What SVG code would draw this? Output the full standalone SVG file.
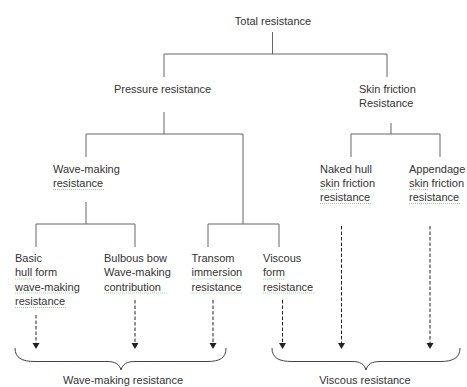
<svg xmlns="http://www.w3.org/2000/svg" width="467" height="387" viewBox="0 0 467 387">
<defs>
<style>
text{font-family:"Liberation Sans",Arial,sans-serif;font-size:11px;fill:#333}
.tree{fill:none;stroke:#666;stroke-width:1}
.dash{fill:none;stroke:#222;stroke-width:1;stroke-dasharray:3.5,2}
.brace{fill:none;stroke:#444;stroke-width:1}
.sq{fill:none;stroke:#9ad69a;stroke-width:1;stroke-dasharray:1,1}
</style>
</defs>
<rect width="467" height="387" fill="#fff"/>
<g id="connectors">
<path class="tree" d="M272.5,32V54M164,77V54H387V77"/>
<path class="tree" d="M164,112V134M86,157V134H243V224M36,247V224H135V247M86,202V224M208,247V224H279V247"/>
<path class="tree" d="M391,123V134M351,157V134H440V157"/>
<path class="dash" d="M36,315V343"/>
<path class="dash" d="M135,300V343"/>
<path class="dash" d="M213,300V343"/>
<path class="dash" d="M282.5,300V343"/>
<path class="dash" d="M341.5,226V343"/>
<path class="dash" d="M430,226V343"/>
<g fill="#222">
<path d="M32.5,343H39.5L36,349Z"/>
<path d="M131.5,343H138.5L135,349Z"/>
<path d="M209.5,343H216.5L213,349Z"/>
<path d="M279,343H286L282.5,349Z"/>
<path d="M338,343H345L341.5,349Z"/>
<path d="M426.5,343H433.5L430,349Z"/>
</g>
<path class="brace" d="M15,348C15,358 22,361.5 35,361.5L107,361.5C115,361.5 119.5,364 121,370C122.5,364 127,361.5 135,361.5L207,361.5C220,361.5 226,358 226,348"/>
<path class="brace" d="M272,348C272,358 279,361.5 292,361.5L352,361.5C360,361.5 364.5,364 366,370C367.5,364 372,361.5 380,361.5L440,361.5C453,361.5 460,358 460,348"/>
</g>
<g id="squiggles">
<path class="sq" d="M53,189.5H104"/>
<path class="sq" d="M320,189.5H339M320,203.5H371"/>
<path class="sq" d="M409,189.5H428M409,203.5H460"/>
<path class="sq" d="M15,279H35M15,293H77M15,307.5H66"/>
<path class="sq" d="M104,293H167"/>
<path class="sq" d="M191.5,279H240M191.5,293H242"/>
<path class="sq" d="M263,279H285M263,293H314"/>
</g>
<g id="n-total"><text x="273" y="25" text-anchor="middle">Total resistance</text></g>
<g id="n-pressure"><text x="114" y="93">Pressure resistance</text></g>
<g id="n-skin"><text x="359" y="93">Skin friction</text><text x="359" y="107">Resistance</text></g>
<g id="n-wave"><text x="53" y="173">Wave-making</text><text x="53" y="187">resistance</text></g>
<g id="n-naked"><text x="320" y="172.7">Naked hull</text><text x="320" y="186.7">skin friction</text><text x="320" y="200.7">resistance</text></g>
<g id="n-appendage"><text x="409" y="172.7">Appendage</text><text x="409" y="186.7">skin friction</text><text x="409" y="200.7">resistance</text></g>
<g id="n-basic"><text x="15" y="262">Basic</text><text x="15" y="276.3">hull form</text><text x="15" y="290.6">wave-making</text><text x="15" y="305">resistance</text></g>
<g id="n-bulbous"><text x="104" y="262">Bulbous bow</text><text x="104" y="276.3">Wave-making</text><text x="104" y="290.6">contribution</text></g>
<g id="n-transom"><text x="191.5" y="262">Transom</text><text x="191.5" y="276.3">immersion</text><text x="191.5" y="290.6">resistance</text></g>
<g id="n-viscousform"><text x="263" y="262">Viscous</text><text x="263" y="276.3">form</text><text x="263" y="290.6">resistance</text></g>
<g id="n-wavetotal"><text x="123" y="384" text-anchor="middle">Wave-making resistance</text></g>
<g id="n-viscoustotal"><text x="365" y="384" text-anchor="middle">Viscous resistance</text></g>
</svg>
